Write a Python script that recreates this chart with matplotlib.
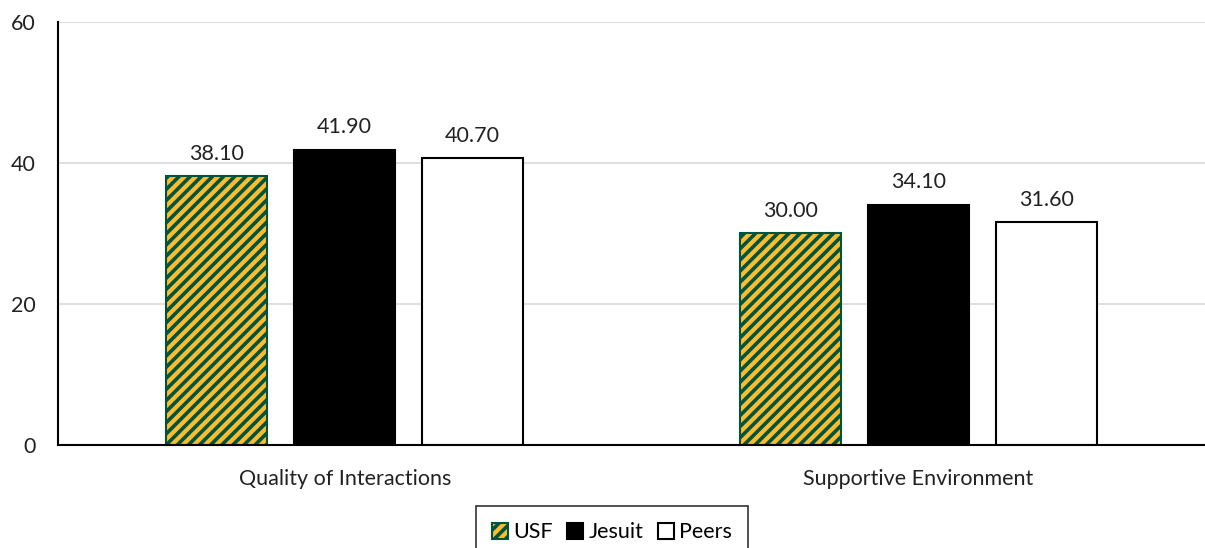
import numpy as np
import matplotlib.pyplot as plt

plt.rcParams['font.family'] = ['Lato', 'DejaVu Sans']
plt.rcParams['hatch.linewidth'] = 2.6

# Datos del grafico
categorias = ["Quality of Interactions", "Supportive Environment"]
series = ["USF", "Jesuit", "Peers"]
usf = [38.10, 30.00]
jesuit = [41.90, 34.10]
peers = [40.70, 31.60]
y_ticks = [0, 20, 40, 60]

valores = [usf, jesuit, peers]
colores = ["#FDBB30", "black", "white"]
bordes = ["#00543C", "black", "black"]
tramas = ["///", None, None]
tam = 15.5

fig = plt.figure(figsize=(12.05, 5.48), dpi=100)
ax = fig.add_axes([0.0481, 0.188, 0.9519, 0.772])

x = np.arange(len(categorias))
ancho = 0.176
paso = 0.223

barras = []
for i, (vals, nombre) in enumerate(zip(valores, series)):
    b = ax.bar(x + (i - 1) * paso, vals, ancho, color=colores[i],
               edgecolor=bordes[i], linewidth=1.5, hatch=tramas[i],
               label=nombre, zorder=3)
    barras.append(b)
    for xi, v in zip(x + (i - 1) * paso, vals):
        ax.annotate(f"{v:.2f}", (xi, v), xytext=(0, 9), textcoords="offset points",
                    ha="center", va="bottom", fontsize=tam, color="#222222")

ax.set_xlim(-0.5, 1.5)
ax.set_ylim(0, 60)
ax.set_yticks(y_ticks)
ax.set_xticks(x)
ax.set_xticklabels(categorias)
ax.tick_params(axis="both", length=0, labelsize=tam, colors="#222222")
ax.tick_params(axis="y", pad=16)
ax.tick_params(axis="x", pad=17)
ax.grid(axis="y", color="#D9D9D9", linewidth=1.2, zorder=0)
for s in ["top", "right"]:
    ax.spines[s].set_visible(False)
for s in ["left", "bottom"]:
    ax.spines[s].set_linewidth(1.5)
    ax.spines[s].set_color("black")
    ax.spines[s].set_zorder(4)

leg = fig.legend(handles=barras, loc="upper center", bbox_to_anchor=(0.508, 1 - 506 / 548),
                 ncol=3, frameon=True, fancybox=False, edgecolor="black",
                 fontsize=tam, handlelength=0.75, handleheight=0.75,
                 handletextpad=0.25, columnspacing=0.65, borderpad=0.75,
                 borderaxespad=0)
leg.get_frame().set_linewidth(1.2)

fig.savefig("out.png", dpi=100)
